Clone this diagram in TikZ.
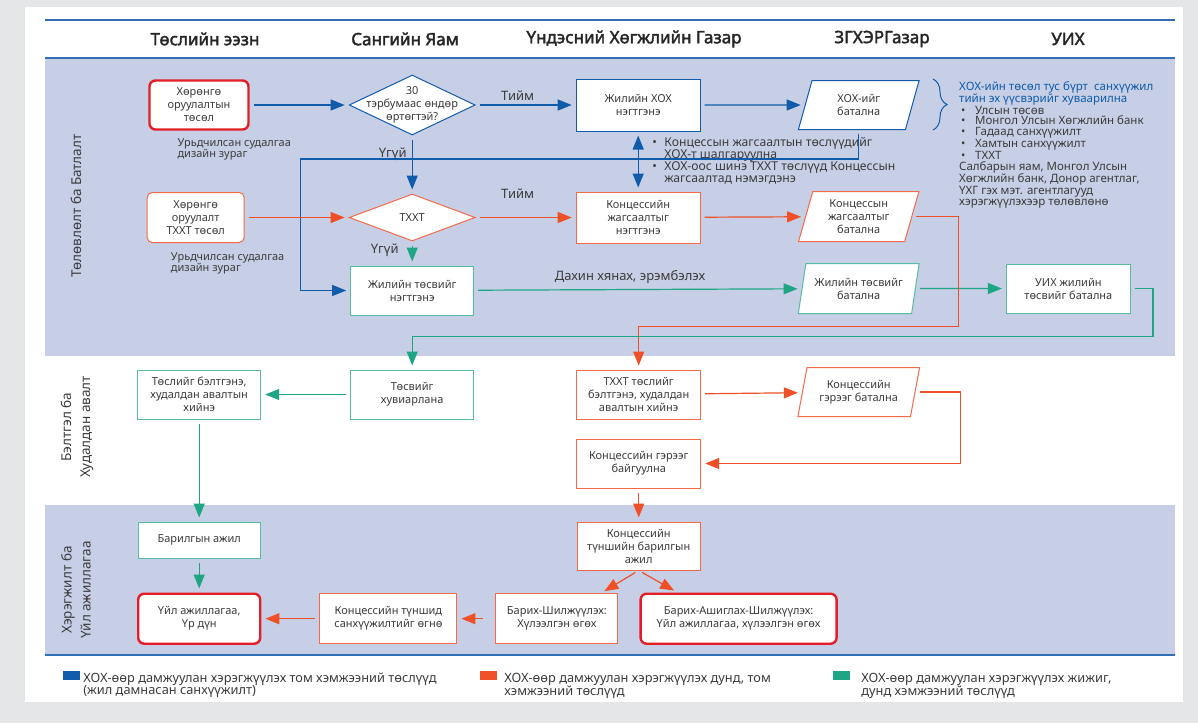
\documentclass[tikz,border=0pt]{standalone}
\usepackage{fontspec}
\setmainfont{Noto Sans}
\newfontfamily\headfont{Noto Sans}[FakeBold=2.2]
\usepackage{xcolor}
\definecolor{hoxBlue}{RGB}{16,92,170}
\definecolor{txxtOrange}{RGB}{240,80,40}
\definecolor{smGreen}{RGB}{30,166,132}
\definecolor{keyRed}{RGB}{228,30,38}
\definecolor{bandLav}{RGB}{199,207,230}
\definecolor{pageGrey}{RGB}{229,230,232}
\definecolor{ruleBlue}{RGB}{50,110,180}
\definecolor{txtGrey}{RGB}{60,60,60}
\usepackage{tikz}
\usetikzlibrary{positioning,arrows.meta,shapes.geometric,decorations.pathreplacing}

\begin{document}
\begin{tikzpicture}[x=1pt,y=-1pt,node distance=22pt and 100pt,
  b/.style={draw,fill=white,align=center,text=txtGrey,font=\fontsize{11}{13}\selectfont,inner sep=2pt,minimum width=123pt,minimum height=49pt,line width=1pt},
  bl/.style={b,draw=hoxBlue},
  ob/.style={b,draw=txxtOrange!85},
  gb/.style={b,draw=smGreen!75},
  kb/.style={b,draw=keyRed,line width=2.4pt,rounded corners=6pt},
  dm/.style={diamond,aspect=2,minimum width=126pt,minimum height=60pt,inner xsep=-22pt,inner ysep=-12pt},
  pg/.style={trapezium,trapezium left angle=76,trapezium right angle=104,trapezium stretches=true,minimum width=121pt,minimum height=49pt,inner xsep=0pt},
  a/.style={-{Triangle[length=14pt,width=11pt]},line width=1.2pt,shorten <=4pt,shorten >=4pt},
  ab/.style={a,hoxBlue},
  ao/.style={a,txxtOrange},
  ag/.style={a,smGreen},
  lbl/.style={font=\fontsize{13}{15}\selectfont,text=txtGrey,inner sep=0pt},
  nt/.style={font=\fontsize{11}{11}\selectfont,text=txtGrey,align=left,inner sep=0pt},
  hd/.style={font=\headfont\fontsize{17}{19}\selectfont,text=black!85},
  lane/.style={rotate=90,align=center,font=\fontsize{13.5}{19}\selectfont,text=txtGrey},
  sq/.style={fill,minimum width=17pt,minimum height=9pt,inner sep=0pt},
  lg/.style={font=\fontsize{12.8}{12.5}\selectfont,text=txtGrey,align=left,inner sep=0pt}]
  \useasboundingbox (0,0) rectangle (1198,723);
  % page and bands
  \fill[pageGrey] (0,0) rectangle (1198,723);
  \fill[white] (25,7) rectangle (1183,702);
  \fill[bandLav] (45,58) rectangle (1175,356);
  \fill[bandLav] (45,505) rectangle (1175,655);
  \draw[ruleBlue,line width=1.5pt] (45,20) -- (1175,20);
  \draw[ruleBlue,line width=1.5pt] (45,58) -- (1175,58);
  \draw[ruleBlue,line width=1.5pt] (45,655) -- (1175,655);
  % column heads
  \node[hd] (hOwner) at (205,39) {Төслийн ээзн};
  \node[hd] (hMof) at (405,39) {Сангийн Яам};
  \node[hd] (hNda) at (634,39) {Үндэсний Хөгжлийн Газар};
  \node[hd] (hCab) at (882,39) {ЗГХЭРГазар};
  \node[hd] (hParl) at (1068,39) {УИХ};
  % lanes
  \node[lane] (lPlan) at (76,206) {Төлөвлөлт ба Батлалт};
  \node[lane] (lPrep) at (77,427) {Бэлтгэл ба\\Худалдан авалт};
  \node[lane] (lImpl) at (76,590) {Хэрэгжилт ба\\Үйл ажиллагаа};

  % planning
  \node[kb,minimum width=99pt] (inv) at (199,105) {Хөрөнгө\\оруулалтын\\төсөл};
  \node[bl,dm,right=99pt of inv] (cost) {30\\тэрбумаас өндөр\\өртөгтэй?};
  \node[bl,minimum width=124pt,minimum height=52pt,right=of cost] (hox) {Жилийн ХОХ\\нэгтгэнэ};
  \node[bl,pg,right=104pt of hox] (hoxbat) {ХОХ-ийг\\батална};
  \node[nt,below right=8pt and 29pt of inv.south west] (pre1) {Урьдчилсан судалгаа\\дизайн зураг};
  \node[ob,dm,minimum height=47pt,below=58pt of cost] (txxt) {ТХХТ};
  \node[ob,rounded corners=5pt,minimum width=97pt,minimum height=50pt,left=104pt of txxt] (inv2) {Хөрөнгө\\оруулалт\\ТХХТ төсөл};
  \node[nt,below right=9pt and 24pt of inv2.south west] (pre2) {Урьдчилсан судалгаа\\дизайн зураг};
  \node[ob,minimum width=124pt,minimum height=51pt,right=of txxt] (konts) {Концессийн\\жагсаалтыг\\нэгтгэнэ};
  \node[ob,pg,minimum height=50pt,below=61pt of hoxbat] (kontsbat) {Концессын\\жагсаалтыг\\батална};
  \node[nt,font=\fontsize{12.2}{12}\selectfont,below right=6pt and 14pt of hox.south] (list) {\makebox[12pt][l]{\textbullet}Концессын жагсаалтын төслүүдийг\\\hspace*{12pt}ХОХ-т шалгаруулна\\\makebox[12pt][l]{\textbullet}ХОХ-оос шинэ ТХХТ төслүүд Концессын\\\hspace*{12pt}жагсаалтад нэмэгдэнэ};
  \node[nt,font=\fontsize{11.5}{10.7}\selectfont,anchor=north west] (fund) at (959,81) {\textcolor{hoxBlue}{ХОХ-ийн төсөл тус бүрт~ санхүүжил}\\\textcolor{hoxBlue}{тийн эх үүсвэрийг хуваарилна}\\\hspace*{2pt}\makebox[14pt][l]{\textbullet}Улсын төсөв\\\hspace*{2pt}\makebox[14pt][l]{\textbullet}Монгол Улсын Хөгжлийн банк\\\hspace*{2pt}\makebox[14pt][l]{\textbullet}Гадаад санхүүжилт\\\hspace*{2pt}\makebox[14pt][l]{\textbullet}Хамтын санхүүжилт\\\hspace*{2pt}\makebox[14pt][l]{\textbullet}ТХХТ\\Салбарын яам, Монгол Улсын\\Хөгжлийн банк, Донор агентлаг,\\ҮХГ гэх мэт. агентлагууд\\хэрэгжүүлэхээр төлөвлөнө};
  \draw[hoxBlue,line width=1pt,decorate,decoration={brace,amplitude=14pt}] ([xshift=-26pt,yshift=2pt]fund.north west) -- ++(0,51);
  \node[gb,below=24pt of txxt] (tsv1) {Жилийн төсвийг\\нэгтгэнэ};
  \node[gb,pg,minimum height=50pt,below=21pt of kontsbat] (tsvbat) {Жилийн төсвийг\\батална};
  \node[gb,minimum width=124pt,right=90pt of tsvbat] (uix) {УИХ жилийн\\төсвийг батална};

  % preparation
  \node[gb,below=54pt of tsv1] (tsv2) {Төсвийг\\хувиарлана};
  \node[gb,left=89pt of tsv2] (proj) {Төслийг бэлтгэнэ,\\худалдан авалтын\\хийнэ};
  \node[ob,minimum width=124pt,right=102pt of tsv2] (prep2) {ТХХТ төслийг\\бэлтгэнэ, худалдан\\авалтын хийнэ};
  \node[ob,pg,minimum width=122pt,below=53pt of tsvbat] (contbat) {Концессийн\\гэрээг батална};
  \node[ob,minimum width=124pt,below=19pt of prep2] (sign) {Концессийн гэрээг\\байгуулна};

  % implementation
  \node[ob,minimum height=48pt,below=33pt of sign] (constr) {Концессийн\\түншийн барилгын\\ажил};
  \node[gb,minimum width=122pt,minimum height=36pt,below=102pt of proj] (barilga) {Барилгын ажил};
  \node[kb,minimum width=122pt,minimum height=50pt,below=34pt of barilga] (result) {Үйл ажиллагаа,\\Үр дүн};
  \node[ob,minimum width=137pt,minimum height=50pt,right=58pt of result] (finance) {Концессийн түншид\\санхүүжилтийг өгнө};
  \node[ob,minimum width=122pt,minimum height=50pt,right=38pt of finance] (bt) {Барих-Шилжүүлэх:\\Хүлээлгэн өгөх};
  \node[kb,minimum width=196pt,minimum height=50pt,right=21pt of bt] (bot) {Барих-Ашиглах-Шилжүүлэх:\\Үйл ажиллагаа, хүлээлгэн өгөх};

  % arrows
  \draw[ab] (inv) -- (cost);
  \draw[ab] (cost) -- node[lbl,above=4pt,pos=.42]{Тийм} (hox);
  \draw[ab] (hox) -- (hoxbat);
  \draw[ab] (cost) -- node[lbl,left=5pt,pos=.33]{Үгүй} (txxt);
  \draw[ab,{Triangle[length=14pt,width=11pt]}-{Triangle[length=14pt,width=11pt]}] (hox) -- (konts);
  \draw[ab] (hoxbat.south) -- ++(0,29) -| ([xshift=-50pt]tsv1.west) -- (tsv1);
  \draw[ao] (inv2) -- (txxt);
  \draw[ao] (txxt) -- node[lbl,above=18pt,pos=.42]{Тийм} (konts);
  \draw[ag] (txxt) -- node[lbl,left=13pt,pos=.37]{Үгүй} (tsv1);
  \draw[ao] (konts) -- (kontsbat);
  \draw[ag] (tsv1) -- node[lbl,above=5pt,pos=.476]{Дахин хянах, эрэмбэлэх} (tsvbat);
  \draw[ag] (tsvbat) -- (uix);
  \draw[ao] (kontsbat.east) -- ++(46,0) |- ([yshift=43pt]prep2.north) -- (prep2);
  \draw[ag] (uix.east) -- ++(22,0) |- ([yshift=33pt]tsv2.north) -- (tsv2);
  \draw[ag] (tsv2) -- (proj);
  \draw[ag] (proj) -- (barilga);
  \draw[ao] (prep2) -- (contbat);
  \draw[ao] (contbat.east) -- ++(45,0) |- (sign);
  \draw[ao] (sign) -- (constr);
  \draw[ao] (constr.south) -- ([xshift=44pt]bt.north);
  \draw[ao] (constr.south) -- ([xshift=-61pt]bot.north);
  \draw[ao,shorten <=12pt] (bt) -- (finance);
  \draw[ao] (finance) -- (result);
  \draw[ag] (barilga) -- (result);

  % legend
  \node[sq,hoxBlue] (kBlue) at (71.5,675.5) {};
  \node[lg,anchor=north west] (tBlue) at ([xshift=3pt,yshift=-2pt]kBlue.north east) {ХОХ-өөр дамжуулан хэрэгжүүлэх том хэмжээний төслүүд\\(жил дамнасан санхүүжилт)};
  \node[sq,txxtOrange] (kOrange) at (488.5,675.5) {};
  \node[lg,anchor=north west] (tOrange) at ([xshift=7pt,yshift=-2pt]kOrange.north east) {ХОХ-өөр дамжуулан хэрэгжүүлэх дунд, том\\хэмжээний төслүүд};
  \node[sq,smGreen] (kGreen) at (841.5,675.5) {};
  \node[lg,anchor=north west] (tGreen) at ([xshift=11pt,yshift=-2pt]kGreen.north east) {ХОХ-өөр дамжуулан хэрэгжүүлэх жижиг,\\дунд хэмжээний төслүүд};
\end{tikzpicture}
\end{document}
